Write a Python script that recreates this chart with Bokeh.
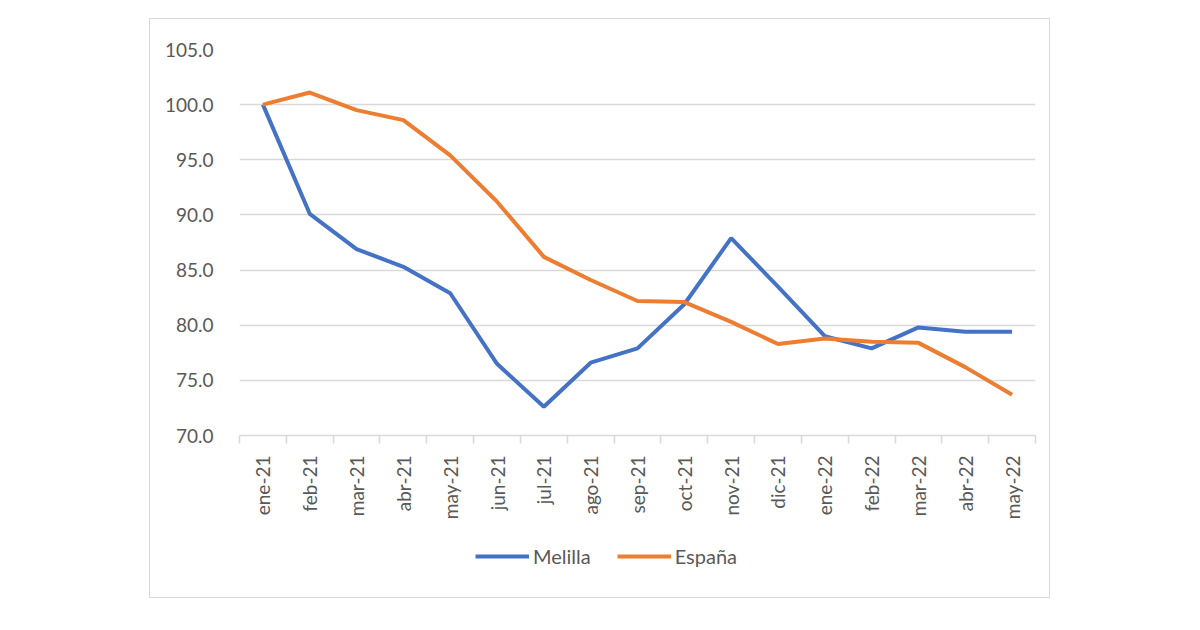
import math
import numpy as np
from bokeh.plotting import figure
from bokeh.layouts import column
from bokeh.models import Range1d, FixedTicker, NumeralTickFormatter, Legend, LegendItem
from bokeh.embed import file_html
from bokeh.resources import INLINE

months = ["ene-21", "feb-21", "mar-21", "abr-21", "may-21", "jun-21", "jul-21",
          "ago-21", "sep-21", "oct-21", "nov-21", "dic-21", "ene-22", "feb-22",
          "mar-22", "abr-22", "may-22"]
melilla = [100.0, 90.1, 86.9, 85.3, 82.9, 76.5, 72.6, 76.6, 77.9, 81.9, 87.9,
           83.5, 79.0, 77.9, 79.8, 79.4, 79.4]
espana = [100.0, 101.1, 99.5, 98.6, 95.4, 91.2, 86.2, 84.1, 82.2, 82.1, 80.3,
          78.3, 78.8, 78.5, 78.4, 76.2, 73.7]
series_names = ["Melilla", "España"]
y_ticks = [70, 75, 80, 85, 90, 95, 100, 105]

FONT = "Lato"
TXT = "#595959"
GRID = "#d9d9d9"
BLUE = "#4472C4"
ORANGE = "#ED7D31"

n = len(months)
xs = list(np.arange(n) + 0.5)

p = figure(width=899, height=512, output_backend="svg", toolbar_location=None,
           x_range=Range1d(0, n), y_range=Range1d(70, 105),
           min_border_left=89, min_border_right=14, min_border_top=30,
           min_border_bottom=96)
p.outline_line_color = None
p.background_fill_color = "white"
p.border_fill_color = "white"

p.line(xs, melilla, line_color=BLUE, line_width=4)
p.line(xs, espana, line_color=ORANGE, line_width=4)

# y axis
ya = p.yaxis[0]
ya.ticker = FixedTicker(ticks=y_ticks)
ya.formatter = NumeralTickFormatter(format="0.0")
ya.axis_line_color = None
ya.major_tick_line_color = None
ya.minor_tick_line_color = None
ya.major_label_standoff = 20
ya.major_label_text_font = FONT
ya.major_label_text_font_size = "19px"
ya.major_label_text_color = TXT
p.ygrid[0].ticker = FixedTicker(ticks=y_ticks)
p.ygrid[0].grid_line_color = GRID
p.ygrid[0].grid_line_width = 1.5
p.xgrid[0].grid_line_color = None

# x axis: labels at centres, ticks at boundaries (minor)
xa = p.xaxis[0]
xa.ticker = FixedTicker(ticks=xs, minor_ticks=list(range(n + 1)))
xa.major_label_overrides = {float(x): m for x, m in zip(xs, months)}
xa.major_tick_line_color = None
xa.minor_tick_out = 8
xa.minor_tick_in = 0
xa.minor_tick_line_color = GRID
xa.minor_tick_line_width = 1.5
xa.axis_line_color = GRID
xa.axis_line_width = 1.5
xa.major_label_orientation = math.pi / 2
xa.major_label_standoff = 12
xa.major_label_text_font = FONT
xa.major_label_text_font_size = "19px"
xa.major_label_text_color = TXT

# legend-only figure (series drawn out of view, only legend visible)
lf = figure(width=899, height=66, output_backend="svg", toolbar_location=None,
            x_range=Range1d(1000, 1001), y_range=Range1d(1000, 1001),
            min_border=0, x_axis_location=None, y_axis_location=None)
lf.outline_line_color = None
lf.grid.visible = False
lr1 = lf.line(xs, melilla, line_color=BLUE, line_width=4)
lr2 = lf.line(xs, espana, line_color=ORANGE, line_width=4)
lg = Legend(items=[LegendItem(label=series_names[0], renderers=[lr1]),
                   LegendItem(label=series_names[1], renderers=[lr2])],
            orientation="horizontal", location=(236, 29),
            border_line_color=None, background_fill_alpha=0,
            padding=0, margin=0, spacing=26, glyph_width=54,
            label_standoff=4, label_text_font=FONT,
            label_text_font_size="20px", label_text_color=TXT)
lf.add_layout(lg, "center")

layout = column(p, lf, spacing=0, margin=(18, 0, 0, 149),
                styles={"border": "1px solid #d9d9d9"})

open("out.html", "w").write(file_html(layout, INLINE))
